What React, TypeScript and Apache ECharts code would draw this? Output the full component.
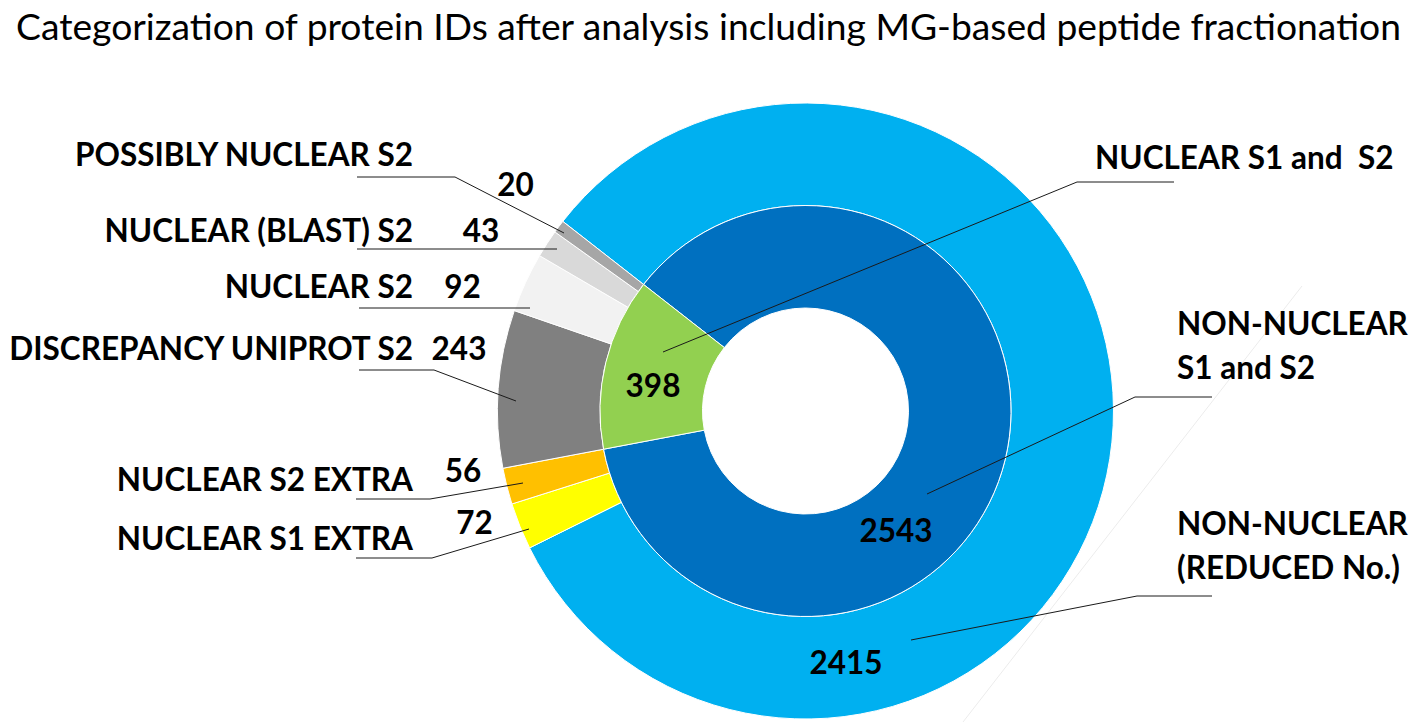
import React, { useEffect, useRef } from 'react';
import * as echarts from 'echarts';

// ---------- data ----------
const TITLE = 'Categorization of protein IDs after analysis including MG-based peptide fractionation';

const innerNames = ['NON-NUCLEAR\nS1 and S2', 'NUCLEAR S1 and  S2'];
const innerValues = [2543, 398];
const innerColors = ['#0070C0', '#92D050'];

const outerNames = [
  'NON-NUCLEAR\n(REDUCED No.)',
  'NUCLEAR S1 EXTRA',
  'NUCLEAR S2 EXTRA',
  'DISCREPANCY UNIPROT S2',
  'NUCLEAR S2',
  'NUCLEAR (BLAST) S2',
  'POSSIBLY NUCLEAR S2',
];
const outerValues = [2415, 72, 56, 243, 92, 43, 20];
const outerColors = ['#00B0F0', '#FFFF00', '#FFC000', '#808080', '#F2F2F2', '#D9D9D9', '#A6A6A6'];

// ---------- layout ----------
const W = 1417;
const H = 728;
const CX = 805.5;
const CY = 411;
const R_HOLE = 103;
const R_MID = 205.5;
const R_OUT = 308;
const START = 142;

type Pt = [number, number];
interface LabelPos { x: number; y: number; align: 'left' | 'right'; line: Pt[] }

const innerNameLayout: LabelPos[] = [
  { x: 1177, y: 345, align: 'left', line: [[927, 494], [1135, 397], [1212, 397]] },
  { x: 1095, y: 157, align: 'left', line: [[663, 352], [1077, 182], [1174, 182]] },
];
const outerNameLayout: LabelPos[] = [
  { x: 1177, y: 545, align: 'left', line: [[911, 640], [1137, 596], [1212, 596]] },
  { x: 413, y: 538, align: 'right', line: [[529, 529], [432, 558], [356, 558]] },
  { x: 413, y: 479, align: 'right', line: [[523, 483], [430, 499], [356, 499]] },
  { x: 413, y: 348, align: 'right', line: [[516, 401], [434, 370], [359, 370]] },
  { x: 413, y: 286, align: 'right', line: [[530, 308], [445, 308], [359, 308]] },
  { x: 413, y: 230, align: 'right', line: [[557, 249], [450, 249], [357, 249]] },
  { x: 413, y: 154, align: 'right', line: [[564, 233], [455, 177], [357, 177]] },
];
const innerValuePos: Pt[] = [[896, 530], [653, 385]];
const outerValuePos: Pt[] = [[846, 662], [474.5, 521.5], [463, 470], [459, 348], [462.5, 286], [481, 230], [515.5, 184]];

const FONT = 'Lato, "Open Sans", "Noto Sans", sans-serif';

function fitSize(text: string, weight: string, target: number, fallback: number): number {
  try {
    const ctx = document.createElement('canvas').getContext('2d');
    if (!ctx) return fallback;
    ctx.font = `${weight} 100px ${FONT}`;
    const w = ctx.measureText(text).width;
    if (!w) return fallback;
    const s = (100 * target) / w;
    return Math.max(20, Math.min(44, s));
  } catch (e) {
    return fallback;
  }
}

export default function App() {
  const ref = useRef<HTMLDivElement>(null);

  useEffect(() => {
    if (!ref.current) return;
    const chart = echarts.init(ref.current, undefined, { renderer: 'svg' });

    const titleSize = fitSize(TITLE, 'normal', 1387, 32);
    const labelSize = fitSize('DISCREPANCY UNIPROT S2', 'bold', 406, 32);

    const labelText = {
      fontFamily: FONT,
      fontWeight: 'bold' as const,
      fontSize: labelSize,
      color: '#000',
      lineHeight: 44,
    };

    const base = (radius: [number, number], z: number) => ({
      type: 'pie',
      center: [CX, CY],
      radius,
      startAngle: START,
      clockwise: true,
      avoidLabelOverlap: false,
      silent: true,
      z,
    });

    // coloured rings, no labels
    const ringSeries = (names: string[], values: number[], colors: string[], radius: [number, number]) => ({
      ...base(radius, 1),
      itemStyle: { borderColor: '#ffffff', borderWidth: 1 },
      label: { show: false },
      labelLine: { show: false },
      data: values.map((v, i) => ({ name: names[i], value: v, itemStyle: { color: colors[i] } })),
    });

    // transparent overlay carrying category names with leader lines
    const nameSeries = (names: string[], values: number[], radius: [number, number], layout: LabelPos[]) => ({
      ...base(radius, 3),
      itemStyle: { color: 'rgba(0,0,0,0)', borderWidth: 0 },
      label: { show: true, position: 'outside', formatter: '{b}', ...labelText },
      labelLine: { show: true, length: 10, length2: 10, smooth: false, lineStyle: { color: '#1a1a1a', width: 1 } },
      labelLayout: (p: any) => {
        const L = layout[p.dataIndex];
        return { x: L.x, y: L.y, align: L.align, verticalAlign: 'middle', labelLinePoints: L.line };
      },
      data: values.map((v, i) => ({ name: names[i], value: v })),
    });

    // transparent overlay carrying the values
    const valueSeries = (names: string[], values: number[], radius: [number, number], pos: Pt[]) => ({
      ...base(radius, 4),
      itemStyle: { color: 'rgba(0,0,0,0)', borderWidth: 0 },
      label: { show: true, position: 'inside', formatter: '{c}', ...labelText },
      labelLine: { show: false },
      labelLayout: (p: any) => {
        const q = pos[p.dataIndex];
        return { x: q[0], y: q[1], align: 'center', verticalAlign: 'middle' };
      },
      data: values.map((v, i) => ({ name: names[i], value: v })),
    });

    chart.setOption({
      animation: false,
      backgroundColor: '#ffffff',
      title: {
        text: TITLE,
        left: 'center',
        top: 2,
        textStyle: { fontFamily: FONT, fontWeight: 'normal', fontSize: titleSize, color: '#000' },
      },
      graphic: [
        {
          type: 'line',
          silent: true,
          z: -10,
          shape: { x1: 1302, y1: 286, x2: 963, y2: 722 },
          style: { stroke: '#ececec', lineWidth: 1 },
        },
      ],
      series: [
        ringSeries(outerNames, outerValues, outerColors, [R_MID, R_OUT]),
        ringSeries(innerNames, innerValues, innerColors, [R_HOLE, R_MID]),
        nameSeries(outerNames, outerValues, [R_MID, R_OUT], outerNameLayout),
        nameSeries(innerNames, innerValues, [R_HOLE, R_MID], innerNameLayout),
        valueSeries(outerNames, outerValues, [R_MID, R_OUT], outerValuePos),
        valueSeries(innerNames, innerValues, [R_HOLE, R_MID], innerValuePos),
      ],
    });

    return () => chart.dispose();
  }, []);

  return (
    <div style={{ position: 'absolute', left: 0, top: 0, width: W, height: H, background: '#fff' }}>
      <div ref={ref} style={{ width: W, height: H }} />
    </div>
  );
}
